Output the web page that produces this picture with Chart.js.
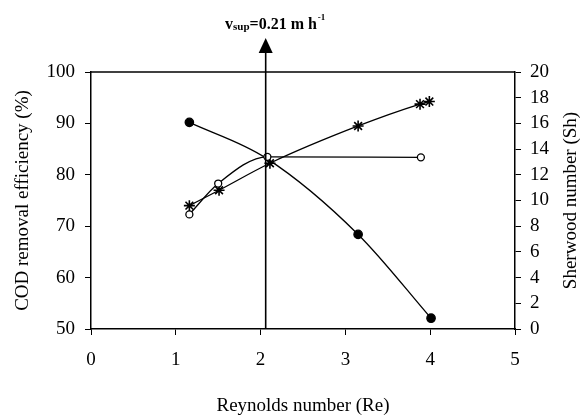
<!DOCTYPE html>
<html>
<head>
<meta charset="utf-8">
<script src="https://cdn.jsdelivr.net/npm/chart.js@4.4.1/dist/chart.umd.min.js"></script>
<style>
  html, body { margin: 0; padding: 0; background: #fff; }
  #wrap { width: 583px; height: 418px; }
</style>
</head>
<body>
<div id="wrap"><canvas id="c" width="583" height="418"></canvas></div>
<script>
// ---- data ----
const reFilled = [1.16, 2.07, 3.15, 4.01];
const codFilled = [90.2, 83.2, 68.4, 52.1];

const reOpen = [1.16, 1.50, 2.08, 3.89];
const codOpen = [72.3, 78.3, 83.5, 83.4];

const reSh = [1.16, 1.51, 2.11, 3.15, 3.88, 3.99];
const shValues = [9.6, 10.8, 12.9, 15.8, 17.5, 17.7];

const xTicks = [0, 1, 2, 3, 4, 5];
const yLeftTicks = [50, 60, 70, 80, 90, 100];
const yRightTicks = [0, 2, 4, 6, 8, 10, 12, 14, 16, 18, 20];

const arrowRe = 2.06;
const arrowLabel = { main: 'v', sub: 'sup', rest: '=0.21 m h', sup: '-1' };

const xTitle = 'Reynolds number (Re)';
const yLeftTitle = 'COD removal efficiency (%)';
const yRightTitle = 'Sherwood number (Sh)';

// ---- chart ----
const FONT = 'Liberation Serif';
const toPts = (xs, ys) => xs.map((x, i) => ({ x: x, y: ys[i] }));

const framePlugin = {
  id: 'frame',
  afterDatasetsDraw(chart) {
    const { ctx, chartArea: a } = chart;
    ctx.save();
    ctx.strokeStyle = '#000';
    ctx.lineWidth = 1.5;
    ctx.beginPath();
    ctx.moveTo(a.left, a.top);
    ctx.lineTo(a.right, a.top);
    ctx.stroke();
    ctx.restore();
  },
  afterDraw(chart) {
    const { ctx, chartArea: a, scales } = chart;
    const x = scales.x.getPixelForValue(arrowRe);
    ctx.save();
    ctx.strokeStyle = '#000';
    ctx.fillStyle = '#000';
    ctx.lineWidth = 1.6;
    ctx.beginPath();
    ctx.moveTo(x, a.bottom);
    ctx.lineTo(x, 51);
    ctx.stroke();
    ctx.beginPath();
    ctx.moveTo(x, 38);
    ctx.lineTo(x - 7, 53);
    ctx.lineTo(x + 7, 53);
    ctx.closePath();
    ctx.fill();
    // label
    let tx = 225;
    const base = 29;
    ctx.textBaseline = 'alphabetic';
    ctx.textAlign = 'left';
    ctx.font = 'bold 16px "' + FONT + '"';
    ctx.fillText(arrowLabel.main, tx, base);
    tx += ctx.measureText(arrowLabel.main).width;
    ctx.font = 'bold 11px "' + FONT + '"';
    ctx.fillText(arrowLabel.sub, tx, base + 1);
    tx += ctx.measureText(arrowLabel.sub).width;
    ctx.font = 'bold 16px "' + FONT + '"';
    ctx.fillText(arrowLabel.rest, tx, base);
    tx += ctx.measureText(arrowLabel.rest).width + 1;
    ctx.font = 'bold 9px "' + FONT + '"';
    ctx.fillText(arrowLabel.sup, tx, base - 9);
    // right axis title, reading upward like the left one
    ctx.font = '19px "' + FONT + '"';
    ctx.textAlign = 'center';
    ctx.textBaseline = 'middle';
    ctx.translate(571, (a.top + a.bottom) / 2);
    ctx.rotate(-Math.PI / 2);
    ctx.fillText(yRightTitle, 0, 0);
    ctx.restore();
  }
};

const tickFont = { family: FONT, size: 19 };
const titleFont = { family: FONT, size: 19 };

new Chart(document.getElementById('c'), {
  type: 'scatter',
  data: {
    datasets: [
      {
        label: 'open',
        data: toPts(reOpen, codOpen),
        yAxisID: 'y',
        showLine: true,
        cubicInterpolationMode: 'monotone',
        borderColor: '#000',
        borderWidth: 1.3,
        pointStyle: 'circle',
        pointRadius: 3.5,
        pointBorderWidth: 1.3,
        pointBackgroundColor: '#fff',
        pointBorderColor: '#000'
      },
      {
        label: 'filled',
        data: toPts(reFilled, codFilled),
        yAxisID: 'y',
        showLine: true,
        cubicInterpolationMode: 'monotone',
        borderColor: '#000',
        borderWidth: 1.3,
        pointStyle: 'circle',
        pointRadius: [4.2, 0, 4.2, 4.2],
        pointBackgroundColor: '#000',
        pointBorderColor: '#000'
      },
      {
        label: 'Sh',
        data: toPts(reSh, shValues),
        yAxisID: 'y2',
        showLine: true,
        cubicInterpolationMode: 'monotone',
        borderColor: '#000',
        borderWidth: 1.3,
        pointStyle: 'star',
        pointRadius: 5.5,
        pointBorderWidth: 1.6,
        pointBorderColor: '#000',
        pointBackgroundColor: '#000'
      }
    ]
  },
  options: {
    responsive: false,
    animation: false,
    events: [],
    layout: { padding: { top: 72, left: 0, right: 0, bottom: 0 } },
    plugins: { legend: { display: false }, tooltip: { enabled: false } },
    scales: {
      x: {
        type: 'linear',
        min: xTicks[0],
        max: xTicks[xTicks.length - 1],
        afterBuildTicks: (s) => { s.ticks = xTicks.map(v => ({ value: v })); },
        afterFit: (s) => { s.height = 89; },
        grid: { drawOnChartArea: false, tickLength: 6, color: '#000', tickWidth: 1 },
        border: { color: '#000', width: 1.5 },
        ticks: { color: '#000', font: tickFont, padding: 14, maxRotation: 0, autoSkip: false },
        title: { display: true, text: xTitle, color: '#000', font: titleFont, padding: { top: 0, bottom: 1 } }
      },
      y: {
        type: 'linear',
        position: 'left',
        min: yLeftTicks[0],
        max: yLeftTicks[yLeftTicks.length - 1],
        afterBuildTicks: (s) => { s.ticks = yLeftTicks.map(v => ({ value: v })); },
        afterFit: (s) => { s.width = 91; },
        grid: { drawOnChartArea: false, tickLength: 6, color: '#000', tickWidth: 1 },
        border: { color: '#000', width: 1.5 },
        ticks: { color: '#000', font: tickFont, padding: 10, autoSkip: false },
        title: { display: true, text: yLeftTitle, color: '#000', font: titleFont, padding: { top: 12, bottom: 0 } }
      },
      y2: {
        type: 'linear',
        position: 'right',
        min: yRightTicks[0],
        max: yRightTicks[yRightTicks.length - 1],
        afterBuildTicks: (s) => { s.ticks = yRightTicks.map(v => ({ value: v })); },
        afterFit: (s) => { s.width = 68; },
        grid: { drawOnChartArea: false, tickLength: 6, color: '#000', tickWidth: 1 },
        border: { color: '#000', width: 1.5 },
        ticks: { color: '#000', font: tickFont, padding: 9, autoSkip: false },
        title: { display: false }
      }
    }
  },
  plugins: [framePlugin]
});
</script>
</body>
</html>
